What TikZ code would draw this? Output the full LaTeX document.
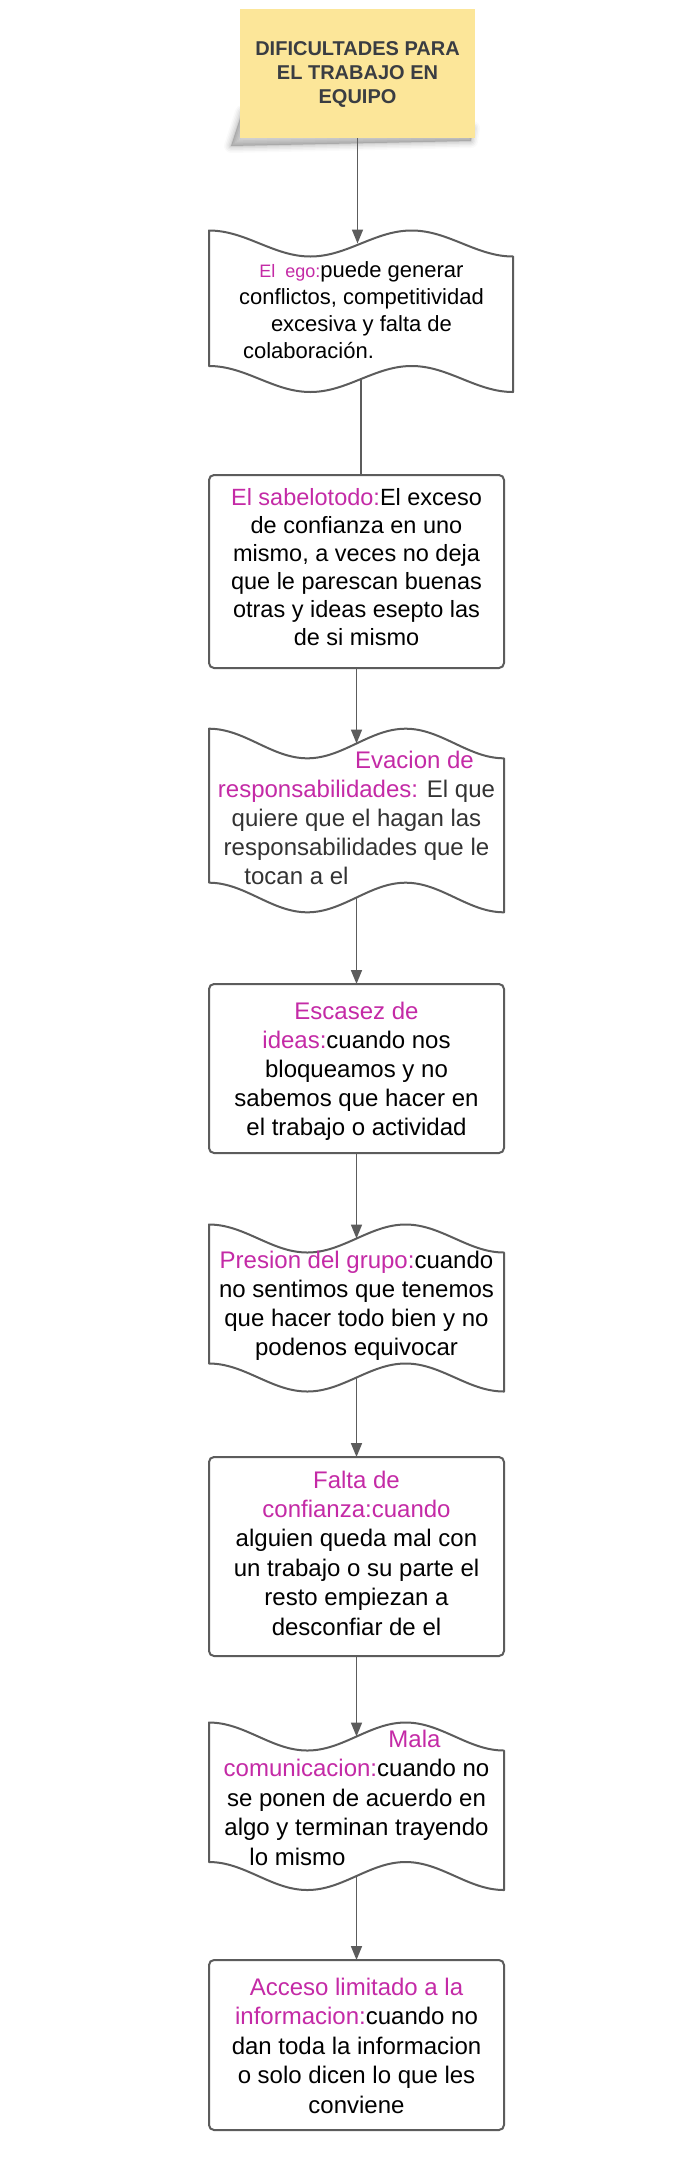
\documentclass[tikz,border=0pt]{standalone}
\usepackage{fontspec}
\setmainfont{Liberation Sans}
\usetikzlibrary{arrows.meta,calc}
\definecolor{mag}{HTML}{C42AA6}
\definecolor{ln}{HTML}{5C5C5C}
\definecolor{stickyc}{HTML}{FCE699}
\definecolor{ttl}{HTML}{3A3D42}
\definecolor{txtdark}{HTML}{333333}
\newcommand\wavedoc[2]{%
  \draw[docline] let \p1=(#1.north west), \p2=(#1.south east), \n1={(\x2-\x1)/6} in
  (\x1,\y1+#2pt) cos (\x1+\n1,\y1) sin (\x1+2*\n1,\y1-#2pt) cos (\x1+3*\n1,\y1) sin (\x1+4*\n1,\y1+#2pt) cos (\x1+5*\n1,\y1) sin (\x2,\y1-#2pt)
  -- (\x2,\y2-#2pt) cos (\x2-\n1,\y2) sin (\x2-2*\n1,\y2+#2pt) cos (\x2-3*\n1,\y2) sin (\x2-4*\n1,\y2-#2pt) cos (\x2-5*\n1,\y2) sin (\x1,\y2+#2pt) -- cycle;}
\begin{document}
\begin{tikzpicture}[x=1pt,y=-1pt,
  docarea/.style={rectangle, draw=none, inner sep=0pt, outer sep=0pt},
  boxst/.style={rectangle, rounded corners=5pt, draw=ln, line width=2pt, fill=white, inner sep=0pt, outer sep=0pt},
  docline/.style={draw=ln, line width=2pt, fill=white, line join=round},
  conn/.style={draw=ln, line width=1.6pt},
  arr/.style={conn, -{Triangle[length=14pt,width=11pt]}},
  txt/.style={align=center, inner sep=0pt, anchor=base, font=\fontsize{24}{29}\selectfont, text=black},
  stickyst/.style={rectangle, fill=stickyc, inner sep=0pt, outer sep=0pt, minimum width=235pt, minimum height=129pt},
  ttlst/.style={align=center, inner sep=0pt, anchor=base, font=\fontsize{20}{24}\selectfont\bfseries, text=ttl}]
\fill[white] (0,0) rectangle (679,2171);
\useasboundingbox (0,0) rectangle (679,2171);
% sticky shadow
\foreach \w/\o in {14/0.02,11/0.03,8/0.035,5/0.045,2/0.06}{
  \filldraw[black, opacity=\o, line width=\w pt, line join=round] (242,112) -- (473,128) -- (471,141) -- (231,146) -- cycle;}
\node[stickyst] (s) at (357.5,73.5) {};
\node[ttlst] (st) at (357.5,103) {DIFICULTADES PARA\\EL TRABAJO EN\\EQUIPO};
% shapes
\node[docarea, minimum width=304pt, minimum height=135.5pt] (d1) at (361,311.25) {};
\wavedoc{d1}{13}
\node[boxst, minimum width=295pt, minimum height=193pt] (b2) at (356.5,571.5) {};
\node[docarea, minimum width=295pt, minimum height=154pt] (d3) at (356.5,820.5) {};
\wavedoc{d3}{14.8}
\node[boxst, minimum width=295pt, minimum height=169pt] (b4) at (356.5,1068.5) {};
\node[docarea, minimum width=295pt, minimum height=139pt] (d5) at (356.5,1308) {};
\wavedoc{d5}{14}
\node[boxst, minimum width=295pt, minimum height=199pt] (b6) at (356.5,1556.5) {};
\node[docarea, minimum width=295pt, minimum height=139.5pt] (d7) at (356.5,1806.25) {};
\wavedoc{d7}{14}
\node[boxst, minimum width=295pt, minimum height=170pt] (b8) at (356.5,2045) {};
% connectors
\draw[arr] (s.south) -- (s.south |- d1.north);
\draw[conn] (d1.south) -- (d1.south |- b2.north);
\draw[arr] (b2.south) -- (d3.north);
\draw[arr] (d3.south) -- (b4.north);
\draw[arr] (b4.south) -- (d5.north);
\draw[arr] (d5.south) -- (b6.north);
\draw[arr] (b6.south) -- (d7.north);
\draw[arr] (d7.south) -- (b8.north);
% texts (anchor=base is the last line's baseline)
\node[txt, font=\fontsize{22}{27}\selectfont] (d1t) at (361.5,358) {{\fontsize{18}{27}\selectfont\textcolor{mag}{El\ \ ego:}}puede generar\\conflictos, competitividad\\excesiva y falta de\\colaboración.\rule{106pt}{0pt}};
\node[txt, font=\fontsize{23.5}{28}\selectfont] (b2t) at (356.5,645) {\textcolor{mag}{El sabelotodo:}El exceso\\de confianza en uno\\mismo, a veces no deja\\que le parescan buenas\\otras y ideas esepto las\\de si mismo};
\node[txt, text=txtdark] (d3t) at (356.5,884) {\rule{116pt}{0pt}\textcolor{mag}{Evacion de}\\\textcolor{mag}{responsabilidades:} El que\\quiere que el hagan las\\responsabilidades que le\\tocan a el\rule{120pt}{0pt}};
\node[txt, font=\fontsize{24}{28.8}\selectfont] (b4t) at (356.5,1135) {\textcolor{mag}{Escasez de}\\\textcolor{mag}{ideas:}cuando nos\\bloqueamos y no\\sabemos que hacer en\\el trabajo o actividad};
\node[txt] (d5t) at (356.5,1355) {\textcolor{mag}{Presion del grupo:}cuando\\no sentimos que tenemos\\que hacer todo bien y no\\podenos equivocar};
\node[txt, font=\fontsize{24}{29.4}\selectfont] (b6t) at (356.5,1635) {\textcolor{mag}{Falta de}\\\textcolor{mag}{confianza:cuando}\\alguien queda mal con\\un trabajo o su parte el\\resto empiezan a\\desconfiar de el};
\node[txt, font=\fontsize{24}{29.5}\selectfont] (d7t) at (356.5,1865) {\rule{116pt}{0pt}\textcolor{mag}{Mala}\\\textcolor{mag}{comunicacion:}cuando no\\se ponen de acuerdo en\\algo y terminan trayendo\\lo mismo\rule{118pt}{0pt}};
\node[txt, font=\fontsize{24}{29.5}\selectfont] (b8t) at (356.5,2113) {\textcolor{mag}{Acceso limitado a la}\\\textcolor{mag}{informacion:}cuando no\\dan toda la informacion\\o solo dicen lo que les\\conviene};
\end{tikzpicture}
\end{document}
